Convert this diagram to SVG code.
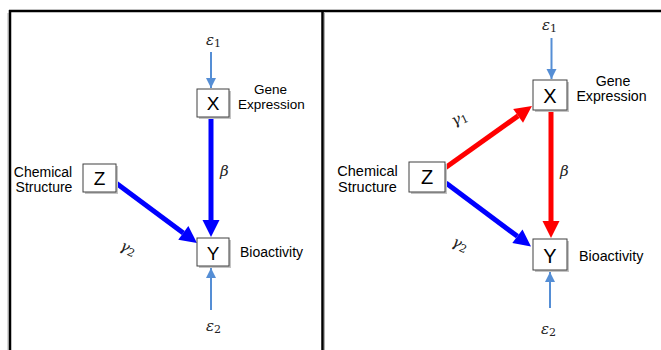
<svg xmlns="http://www.w3.org/2000/svg" width="661" height="350" viewBox="0 0 661 350">
<style>
.frame{stroke:#000;stroke-width:2.5;fill:none}
.fshadow{stroke:#b0b0b0;stroke-width:1;fill:none}
.box{fill:#fff;stroke:#404040;stroke-width:1}
.shadow{fill:#c4c4c4}
.node{font-family:"Liberation Sans",Arial,sans-serif;font-size:19px;fill:#000;text-anchor:middle}
.lbl{font-family:"Liberation Sans",Arial,sans-serif;font-size:14px;fill:#000}
.greek{font-family:"DejaVu Serif","Liberation Serif",serif;font-style:italic;font-size:15px;fill:#222}
.sub{font-style:normal;font-size:11px}
.thin{stroke:#558ED5;stroke-width:2;fill:none}
.blue{stroke:#0000FF;stroke-width:5;fill:none}
.red{stroke:#FF0000;stroke-width:5;fill:none}
</style>
<defs>
<marker id="hb" markerUnits="userSpaceOnUse" markerWidth="18" markerHeight="18" refX="0" refY="8.5" orient="auto" overflow="visible">
<path d="M0,0 L17,8.5 L0,17 z" fill="#0000FF"/>
</marker>
<marker id="hr" markerUnits="userSpaceOnUse" markerWidth="18" markerHeight="18" refX="0" refY="8.5" orient="auto" overflow="visible">
<path d="M0,0 L17,8.5 L0,17 z" fill="#FF0000"/>
</marker>
<marker id="ht" markerUnits="userSpaceOnUse" markerWidth="11" markerHeight="11" refX="10" refY="5" orient="auto" overflow="visible">
<path d="M0,0 L10,5 L0,10 z" fill="#558ED5"/>
</marker>
</defs>

<g id="frame">
<line class="fshadow" x1="8" y1="13" x2="8" y2="350"/>
<line class="fshadow" x1="324.5" y1="13" x2="324.5" y2="350"/>
<line class="frame" x1="9" y1="11" x2="661" y2="11"/>
<line class="frame" x1="10" y1="10" x2="10" y2="350"/>
<line class="frame" x1="322.5" y1="10" x2="322.5" y2="350"/>
</g>

<g id="connectors">
<!-- left panel -->
<line class="thin" x1="211" y1="52" x2="211" y2="88" marker-end="url(#ht)"/>
<line class="thin" x1="211" y1="310" x2="211" y2="268" marker-end="url(#ht)"/>
<line class="blue" x1="211" y1="117" x2="211" y2="220" marker-end="url(#hb)"/>
<line class="blue" x1="116" y1="183" x2="183.3" y2="232.9" marker-end="url(#hb)"/>
<!-- right panel -->
<line class="thin" x1="551.5" y1="38" x2="551.5" y2="79" marker-end="url(#ht)"/>
<line class="thin" x1="550" y1="308" x2="550" y2="272" marker-end="url(#ht)"/>
<line class="red" x1="445" y1="168" x2="518.1" y2="115.9" marker-end="url(#hr)"/>
<line class="red" x1="551" y1="110" x2="551" y2="221" marker-end="url(#hr)"/>
<line class="blue" x1="446" y1="183" x2="517.4" y2="236.3" marker-end="url(#hb)"/>
</g>

<g id="left-X">
<rect class="shadow" x="199" y="91" width="32" height="28"/>
<rect class="box" x="197" y="89" width="32" height="28"/>
<text class="node" x="213" y="110">X</text>
<text class="lbl" x="270.5" y="94" text-anchor="middle" style="font-size:13.5px">Gene</text>
<text class="lbl" x="271.5" y="108.5" text-anchor="middle" style="font-size:13.5px">Expression</text>
</g>
<g id="left-Y">
<rect class="shadow" x="199" y="240" width="32" height="28"/>
<rect class="box" x="197" y="238" width="32" height="28"/>
<text class="node" x="213" y="260">Y</text>
<text class="lbl" x="240" y="257">Bioactivity</text>
</g>
<g id="left-Z">
<rect class="shadow" x="85" y="166" width="33" height="28"/>
<rect class="box" x="83" y="164" width="33" height="28"/>
<text class="node" x="99.5" y="185">Z</text>
<text class="lbl" x="43" y="177" text-anchor="middle">Chemical</text>
<text class="lbl" x="44" y="192" text-anchor="middle">Structure</text>
</g>
<g id="left-labels">
<text class="greek" x="206" y="45">ε<tspan class="sub" dy="2">1</tspan></text>
<text class="greek" x="206" y="331">ε<tspan class="sub" dy="2">2</tspan></text>
<text class="greek" x="220" y="176">β</text>
<text class="greek" transform="translate(119,249) rotate(25)">γ<tspan class="sub" dy="2">2</tspan></text>
</g>

<g id="right-X">
<rect class="shadow" x="535" y="82" width="34" height="30"/>
<rect class="box" x="533" y="80" width="34" height="30"/>
<text class="node" x="550" y="103" style="font-size:20px">X</text>
<text class="lbl" x="613" y="86" text-anchor="middle" style="font-size:14.2px">Gene</text>
<text class="lbl" x="611.5" y="101.3" text-anchor="middle" style="font-size:14.2px">Expression</text>
</g>
<g id="right-Y">
<rect class="shadow" x="535" y="241" width="34" height="31"/>
<rect class="box" x="533" y="239" width="34" height="31"/>
<text class="node" x="550" y="263" style="font-size:20px">Y</text>
<text class="lbl" x="579" y="261" style="font-size:14.3px">Bioactivity</text>
</g>
<g id="right-Z">
<rect class="shadow" x="411" y="164" width="36" height="30"/>
<rect class="box" x="409" y="162" width="36" height="30"/>
<text class="node" x="427" y="184" style="font-size:20px">Z</text>
<text class="lbl" x="367.5" y="176" text-anchor="middle" style="font-size:14.5px">Chemical</text>
<text class="lbl" x="367.5" y="191.5" text-anchor="middle" style="font-size:14.5px">Structure</text>
</g>
<g id="right-labels">
<text class="greek" x="542" y="30">ε<tspan class="sub" dy="2">1</tspan></text>
<text class="greek" x="541" y="334">ε<tspan class="sub" dy="2">2</tspan></text>
<text class="greek" x="560" y="176">β</text>
<text class="greek" transform="translate(454,126) rotate(-25)">γ<tspan class="sub" dy="2">1</tspan></text>
<text class="greek" transform="translate(451,245) rotate(25)">γ<tspan class="sub" dy="2">2</tspan></text>
</g>
</svg>
